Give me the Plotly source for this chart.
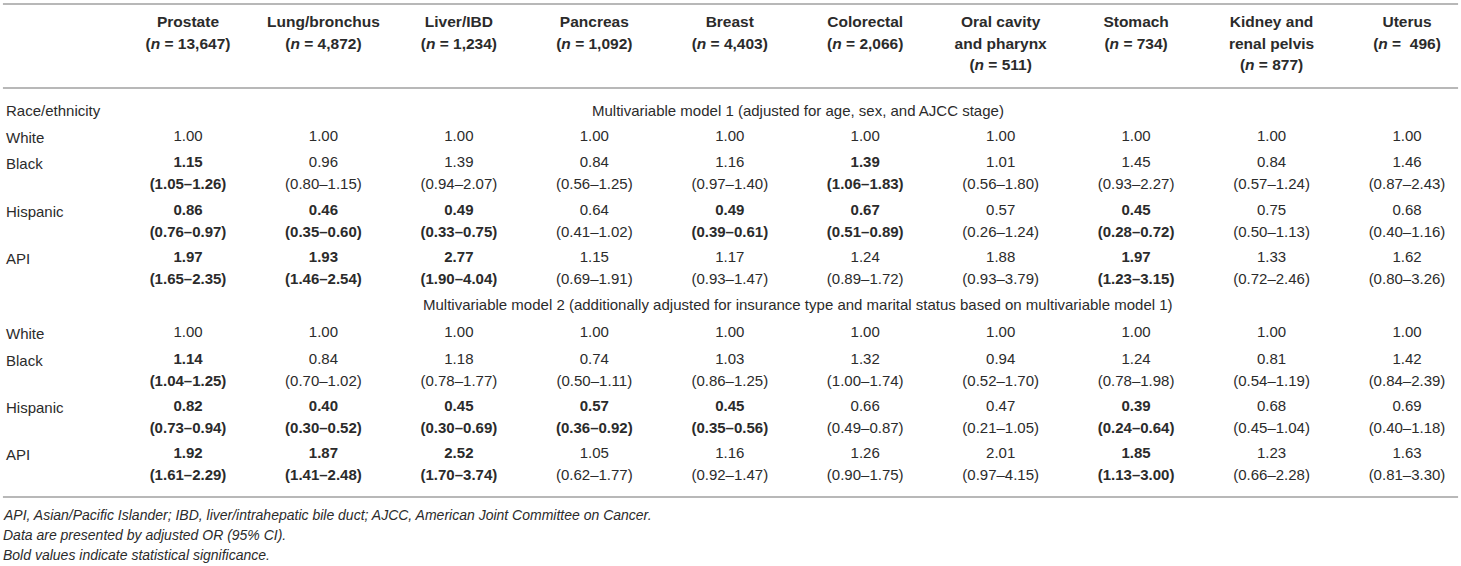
import plotly.graph_objects as go

# Column headers (cancer sites) and sample sizes
cancers = ["Prostate", "Lung/bronchus", "Liver/IBD", "Pancreas", "Breast", "Colorectal",
           "Oral cavity", "Stomach", "Kidney and", "Uterus"]
cancers_line2 = ["", "", "", "", "", "", "and pharynx", "", "renal pelvis", ""]
n_counts = ["13,647", "4,872", "1,234", "1,092", "4,403", "2,066", "511", "734", "877", " 496"]

groups = ["White", "Black", "Hispanic", "API"]

# Multivariable model 1
m1_or = {
    "White": ["1.00"] * 10,
    "Black": ["1.15", "0.96", "1.39", "0.84", "1.16", "1.39", "1.01", "1.45", "0.84", "1.46"],
    "Hispanic": ["0.86", "0.46", "0.49", "0.64", "0.49", "0.67", "0.57", "0.45", "0.75", "0.68"],
    "API": ["1.97", "1.93", "2.77", "1.15", "1.17", "1.24", "1.88", "1.97", "1.33", "1.62"],
}
m1_ci = {
    "Black": ["1.05–1.26", "0.80–1.15", "0.94–2.07", "0.56–1.25", "0.97–1.40", "1.06–1.83",
              "0.56–1.80", "0.93–2.27", "0.57–1.24", "0.87–2.43"],
    "Hispanic": ["0.76–0.97", "0.35–0.60", "0.33–0.75", "0.41–1.02", "0.39–0.61", "0.51–0.89",
                 "0.26–1.24", "0.28–0.72", "0.50–1.13", "0.40–1.16"],
    "API": ["1.65–2.35", "1.46–2.54", "1.90–4.04", "0.69–1.91", "0.93–1.47", "0.89–1.72",
            "0.93–3.79", "1.23–3.15", "0.72–2.46", "0.80–3.26"],
}
m1_sig = {
    "White": [0] * 10,
    "Black": [1, 0, 0, 0, 0, 1, 0, 0, 0, 0],
    "Hispanic": [1, 1, 1, 0, 1, 1, 0, 1, 0, 0],
    "API": [1, 1, 1, 0, 0, 0, 0, 1, 0, 0],
}

# Multivariable model 2
m2_or = {
    "White": ["1.00"] * 10,
    "Black": ["1.14", "0.84", "1.18", "0.74", "1.03", "1.32", "0.94", "1.24", "0.81", "1.42"],
    "Hispanic": ["0.82", "0.40", "0.45", "0.57", "0.45", "0.66", "0.47", "0.39", "0.68", "0.69"],
    "API": ["1.92", "1.87", "2.52", "1.05", "1.16", "1.26", "2.01", "1.85", "1.23", "1.63"],
}
m2_ci = {
    "Black": ["1.04–1.25", "0.70–1.02", "0.78–1.77", "0.50–1.11", "0.86–1.25", "1.00–1.74",
              "0.52–1.70", "0.78–1.98", "0.54–1.19", "0.84–2.39"],
    "Hispanic": ["0.73–0.94", "0.30–0.52", "0.30–0.69", "0.36–0.92", "0.35–0.56", "0.49–0.87",
                 "0.21–1.05", "0.24–0.64", "0.45–1.04", "0.40–1.18"],
    "API": ["1.61–2.29", "1.41–2.48", "1.70–3.74", "0.62–1.77", "0.92–1.47", "0.90–1.75",
            "0.97–4.15", "1.13–3.00", "0.66–2.28", "0.81–3.30"],
}
m2_sig = {
    "White": [0] * 10,
    "Black": [1, 0, 0, 0, 0, 0, 0, 0, 0, 0],
    "Hispanic": [1, 1, 1, 1, 1, 0, 0, 1, 0, 0],
    "API": [1, 1, 1, 0, 0, 0, 0, 1, 0, 0],
}

model1_title = "Multivariable model 1 (adjusted for age, sex, and AJCC stage)"
model2_title = ("Multivariable model 2 (additionally adjusted for insurance type and marital "
                "status based on multivariable model 1)")
footnotes = [
    "API, Asian/Pacific Islander; IBD, liver/intrahepatic bile duct; AJCC, American Joint Committee on Cancer.",
    "Data are presented by adjusted OR (95% CI).",
    "Bold values indicate statistical significance.",
]

FONT = "Liberation Sans, Arial, Helvetica, sans-serif"
TXT = "#2b2b2b"
SIZE = 15
HEAD_SIZE = 15.5
cols = list(range(1, 11))

fig = go.Figure()


def add_row(texts, y, bold_flags=None, size=SIZE):
    if bold_flags is None:
        bold_flags = [0] * len(texts)
    labels = [f"<b>{t}</b>" if b else t for t, b in zip(texts, bold_flags)]
    fig.add_trace(go.Scatter(
        x=cols, y=[y] * len(cols), mode="text", text=labels,
        textposition="middle center",
        textfont=dict(family=FONT, size=size, color=TXT),
        hoverinfo="skip", showlegend=False,
    ))


# header rows
head_y = [23, 45, 66]
add_row([f"<b>{c}</b>" for c in cancers], head_y[0], size=HEAD_SIZE)
line2 = []
line3 = []
for c2, n in zip(cancers_line2, n_counts):
    nt = f"<b>(<i>n</i> = {n})</b>"
    if c2:
        line2.append(f"<b>{c2}</b>")
        line3.append(nt)
    else:
        line2.append(nt)
        line3.append("")
add_row(line2, head_y[1], size=HEAD_SIZE)
add_row(line3, head_y[2], size=HEAD_SIZE)

annotations = []


def label(text, y):
    annotations.append(dict(
        text=text, x=0.0025, xref="paper", y=y, yref="y", xanchor="left", yanchor="middle",
        showarrow=False, font=dict(family=FONT, size=SIZE, color=TXT)))


def model_block(title, title_y, ors, cis, sig, ys):
    annotations.append(dict(
        text=title, x=5.5, xref="x", y=title_y, yref="y", xanchor="center", yanchor="middle",
        showarrow=False, font=dict(family=FONT, size=SIZE, color=TXT)))
    for g, y in zip(groups, ys):
        label(g, y)
        add_row(ors[g], y, sig[g])
        if g in cis:
            add_row([f"({v})" for v in cis[g]], y + 22, sig[g])


label("Race/ethnicity", 110)
model_block(model1_title, 110, m1_or, m1_ci, m1_sig, [137, 163, 211, 258])
model_block(model2_title, 304, m2_or, m2_ci, m2_sig, [333, 360, 407, 454])

for i, f in enumerate(footnotes):
    annotations.append(dict(
        text=f"<i>{f}</i>", x=0.001, xref="paper", y=515 + 20 * i, yref="y",
        xanchor="left", yanchor="middle", showarrow=False,
        font=dict(family=FONT, size=14, color=TXT)))

rule = dict(type="line", xref="paper", yref="y", x0=0.002, x1=0.998,
            line=dict(color="#b8b8b8", width=2))
shapes = [dict(rule, y0=y, y1=y) for y in (4, 88, 497)]

step = (1407 - 188) / 9
fig.update_layout(
    width=1461, height=566,
    margin=dict(l=0, r=0, t=0, b=0),
    paper_bgcolor="white", plot_bgcolor="white",
    xaxis=dict(range=[1 - 188 / step, 10 + (1461 - 1407) / step], visible=False, fixedrange=True),
    yaxis=dict(range=[566, 0], visible=False, fixedrange=True),
    annotations=annotations,
    shapes=shapes,
    showlegend=False,
)

fig.write_html("out.html", config={"displayModeBar": False},
               post_script="document.body.style.margin='0';")
